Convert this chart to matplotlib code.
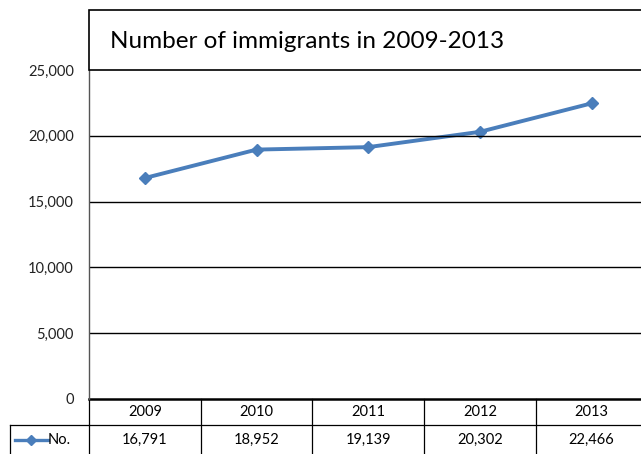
import matplotlib
matplotlib.use('Agg')
import matplotlib.pyplot as plt
from matplotlib.lines import Line2D
from matplotlib.patches import Rectangle
import matplotlib.transforms as mtransforms

plt.rcParams['font.family'] = ['Lato', 'DejaVu Sans']

years = ['2009', '2010', '2011', '2012', '2013']
values = [16791, 18952, 19139, 20302, 22466]
yticks = [0, 5000, 10000, 15000, 20000, 25000]
series_name = 'No.'
title = 'Number of immigrants in 2009-2013'

W, H = 641, 454
blue = '#4A7EBB'

fig = plt.figure(figsize=(W / 100, H / 100), dpi=100)


def fx(px):
    return px / W


def fy(py):
    return 1 - py / H


# plot area: x 89..641(+), y 70..399
ax = fig.add_axes([fx(89), fy(399), 1 - fx(89) + 0.01, (399 - 70) / H])
xs = list(range(len(years)))
ax.plot(xs, values, color=blue, linewidth=2.8, marker='D', markersize=6.5,
        markerfacecolor=blue, markeredgecolor=blue)
ax.set_xlim(-0.5, len(years) - 0.5)
ax.set_ylim(0, 25000)
ax.set_yticks(yticks)
ax.set_yticklabels([f'{v:,}' for v in yticks], fontsize=10.5, color='#222222')
ax.tick_params(axis='y', length=0, pad=11)
ax.set_xticks([])
for y in yticks[1:-1]:
    ax.axhline(y, color='black', linewidth=1.0)
for s in ['top', 'right', 'bottom']:
    ax.spines[s].set_visible(False)
ax.spines['left'].set_color('#555555')
ax.spines['left'].set_linewidth(1.0)
ax.axhline(0, color='black', linewidth=1.8, clip_on=False)

# title box
fig.patches.append(Rectangle((fx(89), fy(70)), 1.0, (70 - 10) / H,
                             transform=fig.transFigure, facecolor='white',
                             edgecolor='black', linewidth=1.2, clip_on=False))
fig.text(fx(110), fy(41), title, fontsize=17.5, va='center', ha='left')

# data table below axes
trans = mtransforms.blended_transform_factory(ax.transData, fig.transFigure)
row1_top, row1_bot, row2_bot = fy(399), fy(425), fy(460)
for i in range(len(years) + 1):
    ax.add_line(Line2D([i - 0.5, i - 0.5], [row1_top, row2_bot], transform=trans,
                       color='black', linewidth=0.9, clip_on=False))
ax.add_line(Line2D([-0.5, len(years) - 0.5], [row1_bot, row1_bot], transform=trans,
                   color='black', linewidth=0.9, clip_on=False))
for i, (yr, v) in enumerate(zip(years, values)):
    ax.text(i, fy(412), yr, transform=trans, ha='center', va='center', fontsize=10.5)
    ax.text(i, fy(440), f'{v:,}', transform=trans, ha='center', va='center', fontsize=10.5)

# legend cell
fig.lines.append(Line2D([fx(10), fx(89)], [fy(425), fy(425)], transform=fig.transFigure,
                        color='black', linewidth=0.9))
fig.lines.append(Line2D([fx(10), fx(10)], [fy(425), fy(460)], transform=fig.transFigure,
                        color='black', linewidth=0.9))
fig.lines.append(Line2D([fx(15), fx(48)], [fy(440), fy(440)], transform=fig.transFigure,
                        color=blue, linewidth=2.4))
fig.lines.append(Line2D([fx(31)], [fy(440)], transform=fig.transFigure, color=blue,
                        marker='D', markersize=5.5, linestyle='none'))
fig.text(fx(48), fy(440), series_name, fontsize=10.5, va='center', ha='left')

fig.savefig('out.png', dpi=100)
